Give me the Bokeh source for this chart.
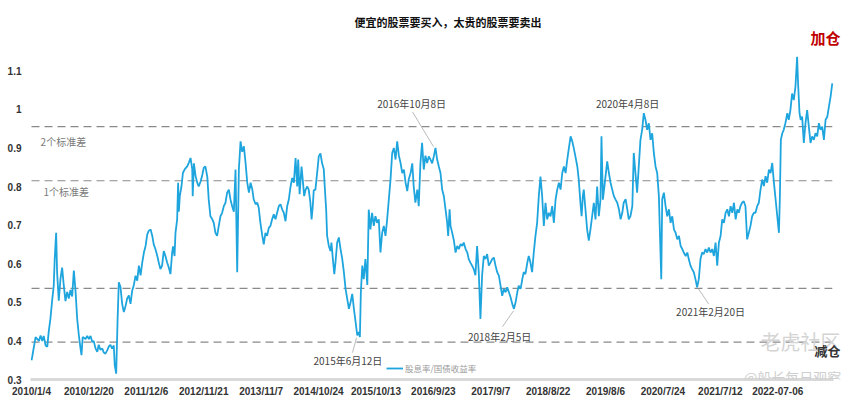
from bokeh.plotting import figure
from bokeh.models import Label, FixedTicker, Range1d, Legend, LegendItem
from bokeh.embed import file_html
from bokeh.resources import INLINE

FONT = "Noto Sans CJK SC"
NUM_FONT = "Liberation Sans"

# ---- data (trading-day index since 2010/1/4, ratio value) ----
trade_day = [0, 3, 17, 31, 38, 45, 51, 59, 66, 72, 79, 87, 93, 97, 103, 107, 114, 121, 128, 135,
             142, 149, 156, 163, 170, 177, 184, 191, 198, 205, 209, 214, 226, 233, 240, 247, 254, 260, 268, 275,
             281, 288, 296, 302, 309, 317, 323, 330, 337, 344, 348, 354, 360, 365, 372, 379, 386, 393, 400, 407,
             414, 421, 428, 435, 442, 449, 456, 463, 470, 477, 484, 490, 498, 505, 511, 518, 526, 532, 539, 546,
             553, 560, 567, 574, 581, 588, 592, 598, 602, 609, 613, 616, 620, 627, 633, 641, 651, 658, 665, 672,
             674, 679, 686, 693, 699, 707, 714, 720, 727, 735, 741, 748, 756, 762, 769, 776, 783, 790, 797, 804,
             811, 818, 825, 832, 839, 846,
             853, 860, 867, 874, 881, 888, 895, 902, 909, 916, 923, 929, 937, 944, 950, 957, 965, 971, 978, 985,
             992, 999, 1006, 1013, 1020, 1027, 1034, 1041, 1048, 1055, 1062, 1069, 1076, 1083, 1090, 1097, 1104, 1111, 1115, 1121,
             1129, 1134, 1140, 1146, 1153, 1159, 1166, 1171, 1176, 1180, 1187, 1195, 1201, 1208, 1215, 1222, 1226, 1232, 1236, 1243,
             1250, 1254, 1260, 1266, 1271, 1278, 1285, 1292, 1299, 1306, 1313, 1320, 1327, 1334, 1341, 1348, 1355, 1362, 1368, 1373,
             1377, 1383, 1389, 1396, 1404, 1410, 1417, 1424, 1431, 1438, 1445, 1452, 1459, 1466, 1473, 1480, 1487, 1494, 1501, 1508,
             1515, 1522, 1529, 1536, 1543, 1550, 1557, 1564, 1571, 1577, 1585, 1592, 1598, 1605, 1613, 1619, 1626, 1633, 1640, 1647,
             1654, 1661, 1668, 1675, 1682, 1689, 1696, 1703, 1710, 1717, 1724, 1731, 1738, 1742, 1748, 1752, 1759, 1766, 1773, 1780,
             1787, 1794, 1801, 1807, 1815, 1822, 1828, 1835, 1842, 1849, 1856, 1863, 1870, 1877, 1884, 1891, 1898, 1905, 1912, 1919,
             1926, 1933, 1940, 1947, 1954, 1961, 1968, 1975, 1982, 1989, 1996, 2003, 2010, 2017, 2024, 2031, 2037, 2045, 2052, 2058,
             2065, 2073, 2079, 2086, 2093, 2100, 2107, 2114, 2121, 2128, 2135, 2142, 2149, 2156, 2163, 2170, 2177, 2184, 2191, 2198,
             2205, 2212, 2219, 2226, 2233, 2240, 2246, 2254, 2261, 2267, 2274, 2282, 2288, 2295, 2300, 2305, 2309, 2316, 2323, 2330,
             2337, 2344, 2351, 2358, 2365, 2372, 2379, 2383, 2389, 2397, 2407, 2414, 2421, 2428, 2435, 2442, 2449, 2456, 2463, 2470,
             2476, 2484, 2491, 2497, 2504, 2512, 2518, 2525, 2532, 2539, 2546, 2553, 2560, 2567, 2574, 2581, 2588, 2595, 2602, 2609,
             2616, 2623, 2627, 2633, 2637, 2644, 2651, 2658, 2665, 2672, 2679, 2686, 2693, 2700, 2707, 2714, 2721, 2727, 2735, 2742,
             2748, 2755, 2762, 2769, 2776, 2783, 2790, 2797, 2804, 2811, 2818, 2825, 2832, 2839, 2846, 2853, 2860, 2867, 2874, 2881,
             2888, 2895, 2902, 2909, 2916, 2923, 2930, 2937, 2944, 2951, 2957, 2964, 2971, 2978, 2985, 2992, 2999, 3006, 3013, 3020,
             3027, 3034, 3041, 3048, 3055, 3062, 3069, 3076, 3083, 3090, 3097, 3104, 3111, 3118, 3125, 3129, 3133, 3139, 3145, 3152,
             3160, 3166, 3173, 3180, 3187, 3194, 3201, 3205, 3211, 3216, 3222, 3229, 3236, 3243, 3250, 3257, 3264, 3271, 3278, 3285,
             3292, 3299, 3306, 3313, 3320, 3327, 3334, 3341, 3348]

ratio = [.35, .359, .41, .40, .414, .40, .413, .388, .385, .424, .457, .509, .543, .612, .68, .578, .504, .56, .59, .543,
         .503, .527, .51, .532, .515, .582, .53, .457, .414, .38, .363, .41, .405, .413, .405, .413, .397, .40, .38, .372,
         .39, .377, .38, .37, .367, .376, .385, .39, .38, .388, .337, .315, .457, .552, .54, .496, .475, .49, .51, .518,
         .496, .53, .545, .569, .556, .595, .57, .603, .629, .646, .676, .685, .689, .672, .65, .638, .62, .603, .586, .595,
         .633, .62, .603, .59, .573, .629, .645, .62, .68, .715, .81, .735, .775, .80, .835, .845, .852, .862, .874, .845,
         .775, .86, .827, .81, .80, .813, .83, .848, .852, .825, .766, .723, .715, .706, .68, .672, .698, .723, .732, .749,
         .758, .784, .792, .766, .749, .735,
         .844, .578, .844, .917, .89, .904, .861, .81, .784, .81, .793, .767, .754, .758, .745, .706, .672, .65, .68, .672,
         .693, .698, .715, .728, .715, .732, .749, .754, .741, .732, .71, .749, .767, .80, .822, .81, .874, .80, .87, .78,
         .852, .818, .775, .792, .80, .792, .758, .715, .749, .79, .792, .84, .878, .886, .86, .845, .80, .74, .672, .646,
         .633, .655, .612, .573, .604, .655, .668, .638, .613, .578, .535, .509, .483, .50, .522, .483, .449, .414, .423, .41,
         .526, .595, .56, .612, .545, .74, .689, .732, .698, .723, .706, .715, .629, .68, .698, .672, .715, .767, .818, .887,
         .90, .87, .917, .88, .861, .835, .844, .81, .788, .818, .835, .86, .80, .758, .792, .749, .86, .913, .844, .88,
         .861, .878, .87, .86, .878, .90, .87, .852, .835, .792, .775, .741, .706, .672, .741, .698, .68, .66, .629, .646,
         .638, .651, .646, .655, .638, .629, .612, .603, .595, .586, .57, .646, .578, .457, .57, .62, .612, .625, .595, .603,
         .612, .616, .595, .578, .569, .543, .517, .535, .526, .539, .526, .513, .496, .483, .50, .526, .543, .535, .56, .578,
         .573, .603, .62, .603, .578, .629, .672, .706, .775, .826, .775, .698, .758, .715, .732, .723, .749, .706, .766, .792,
         .81, .792, .835, .852, .835, .87, .896, .93, .917, .90, .878, .852, .818, .758, .723, .775, .792, .741, .689, .66,
         .689, .723, .758, .715, .80, .723, .766, .93, .766, .81, .865, .835, .81, .792, .775, .766, .758, .741, .715, .732,
         .758, .767, .741, .715, .723, .749, .887, .835, .784, .852, .921, .947, .99, .973, .947, .964, .921, .938, .887, .852,
         .835, .775, .689, .56, .767, .784, .749, .723, .741, .706, .723, .689, .68, .663, .672, .646, .638, .629, .62, .629,
         .612, .595, .586, .578, .56, .539, .56, .612, .629, .625, .638, .629, .642, .629, .638, .62, .655, .595, .655, .672,
         .715, .706, .732, .741, .723, .749, .732, .758, .715, .741, .732, .749, .758, .762, .749, .663, .68, .698, .723, .732,
         .732, .749, .758, .792, .818, .801, .827, .81, .844, .835, .861, .81, .767, .723, .68, .775, .921, .938, .947, .964,
         .99, .973, .998, 1.041, 1.024, 1.058, 1.136, 1.067, .99, .973, .981, .913, .964, .998, .955, .913, .93, .921, .938, .93,
         .964, .947, .955, .921, .973, .98, 1.007, 1.033, 1.067]

date_labels = ["2010/1/4", "2010/12/20", "2011/12/6", "2012/11/21", "2013/11/7", "2014/10/24",
               "2015/10/13", "2016/9/23", "2017/9/7", "2018/8/22", "2019/8/6", "2020/7/24",
               "2021/7/12", "2022-07-06"]
label_step = 240  # trading days between date labels

y_ticks = [0.3, 0.4, 0.5, 0.6, 0.7, 0.8, 0.9, 1.0, 1.1]
y_tick_labels = ["0.3", "0.4", "0.5", "0.6", "0.7", "0.8", "0.9", "1", "1.1"]

std_levels = [0.955, 0.815, 0.536, 0.397]
std_names = ["2个标准差", "1个标准差"]

event_text = ["2016年10月8日", "2020年4月8日", "2015年6月12日", "2018年2月5日", "2021年2月20日"]

series_name = "股息率/国债收益率"

# ---- figure ----
p = figure(width=860, height=399, output_backend="svg", toolbar_location=None,
           x_range=Range1d(-4.2, 3466), y_range=Range1d(0.3, 1.282),
           min_border_left=30, min_border_right=0, min_border_top=0, min_border_bottom=18)
p.outline_line_color = None
p.xgrid.visible = False
p.ygrid.visible = False
p.background_fill_color = "white"
p.border_fill_color = "white"

# x axis
p.xaxis.ticker = FixedTicker(ticks=[i * label_step for i in range(len(date_labels))])
p.xaxis.major_label_overrides = {i * label_step: lab for i, lab in enumerate(date_labels)}
p.xaxis.bounds = (-4.2, 3353)
p.xaxis.axis_line_color = "#d9d9d9"
p.xaxis.axis_line_width = 3
p.xaxis.major_tick_line_color = None
p.xaxis.minor_tick_line_color = None
p.xaxis.major_tick_out = 0
p.xaxis.major_label_standoff = 6
p.xaxis.major_label_text_font = NUM_FONT
p.xaxis.major_label_text_font_size = "10px"
p.xaxis.major_label_text_font_style = "bold"
p.xaxis.major_label_text_color = "#333333"

# y axis
p.yaxis.ticker = FixedTicker(ticks=y_ticks)
p.yaxis.major_label_overrides = {t: s for t, s in zip(y_ticks, y_tick_labels)}
p.yaxis.axis_line_color = None
p.yaxis.major_tick_line_color = None
p.yaxis.minor_tick_line_color = None
p.yaxis.major_tick_out = 0
p.yaxis.major_label_standoff = 9
p.yaxis.major_label_text_font = NUM_FONT
p.yaxis.major_label_text_font_size = "10px"
p.yaxis.major_label_text_font_style = "bold"
p.yaxis.major_label_text_color = "#333333"

# standard deviation lines (span the data period)
n_lv = len(std_levels)
p.segment([trade_day[0]] * n_lv, std_levels, [trade_day[-1]] * n_lv, std_levels,
          line_color="#8a8a8a", line_width=1.2, line_dash="8 5")

# main series
r = p.line(trade_day, ratio, line_color="#1fa5de", line_width=1.8)

# pointer lines for event annotations
ptr_x0 = [1593, 1342, 1969, 2831]
ptr_y0 = [0.9933, 0.3696, 0.4366, 0.4959]
ptr_x1 = [1681, 1359, 2015, 2789]
ptr_y1 = [0.9031, 0.4082, 0.4778, 0.5345]
p.segment(ptr_x0, ptr_y0, ptr_x1, ptr_y1, line_color="#bbbbbb", line_width=1)

def lab(x, y, text, size, color, bold=False, align="center", font=FONT):
    p.add_layout(Label(x=x, y=y, text=text, text_font=font, text_font_size=size,
                       text_color=color, text_align=align, text_baseline="middle",
                       text_font_style="bold" if bold else "normal"))

# title
lab(1741, 1.2265, "便宜的股票要买入，太贵的股票要卖出", "11px", "#111111", bold=True)
# std labels
lab(38, 0.9173, std_names[0], "10px", "#7a7a7a", align="left")
lab(50, 0.7884, std_names[1], "10px", "#7a7a7a", align="left")
# event labels
ev_x = [1589, 2492, 1323, 1957, 2839]
ev_y = [1.0152, 1.0139, 0.349, 0.4108, 0.4753]
for x, y, t in zip(ev_x, ev_y, event_text):
    lab(x, y, t, "10px", "#444444")

# watermarks
lab(3215, 0.398, "老虎社区", "20px", "#d4d4d4")
lab(3182, 0.3077, "@船长每日观察", "14px", "#cfcfcf")

# buy/sell marks
lab(3320, 1.1866, "加仓", "15px", "#c00000", bold=True)
lab(3328, 0.3747, "减仓", "13px", "#333333", bold=True)

# legend
legend = Legend(items=[LegendItem(label=series_name, renderers=[r])], location=(356, 5),
                orientation="horizontal", padding=0, margin=0, spacing=0,
                glyph_width=17, glyph_height=10, label_height=10, label_standoff=2,
                label_text_font=FONT, label_text_font_size="8.5px", label_text_color="#999999",
                background_fill_alpha=0, border_line_alpha=0)
p.add_layout(legend)

open("out.html", "w").write(file_html(p, INLINE))
